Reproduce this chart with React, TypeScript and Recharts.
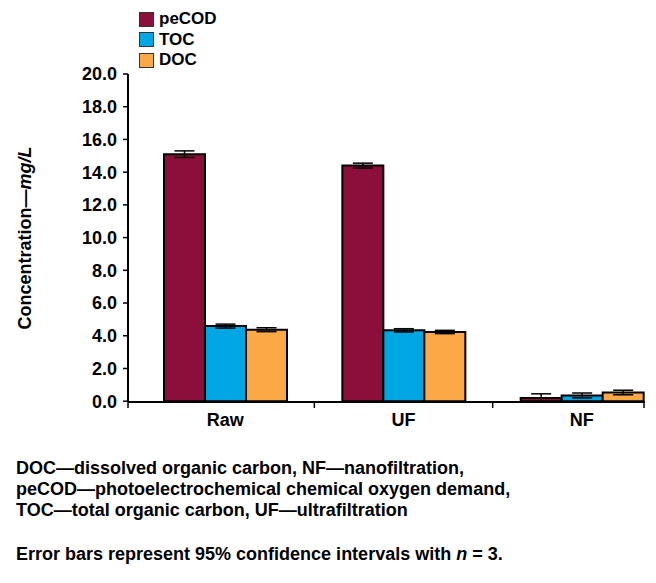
import React from 'react';
import { BarChart, Bar, XAxis, YAxis, ErrorBar } from 'recharts';

const categories = ['Raw', 'UF', 'NF'];
const pecod = [15.1, 14.4, 0.2];
const pecodErr = [0.2, 0.15, 0.25];
const toc = [4.59, 4.33, 0.35];
const tocErr = [0.12, 0.1, 0.15];
const doc = [4.37, 4.23, 0.53];
const docErr = [0.12, 0.1, 0.14];
const yTicks = [0, 2, 4, 6, 8, 10, 12, 14, 16, 18, 20];

const seriesInfo = [
  { key: 'peCOD', color: '#8C0E3A' },
  { key: 'TOC', color: '#00A6E1' },
  { key: 'DOC', color: '#FBA847' },
];

const footnotes = [
  'DOC\u2014dissolved organic carbon, NF\u2014nanofiltration,',
  'peCOD\u2014photoelectrochemical chemical oxygen demand,',
  'TOC\u2014total organic carbon, UF\u2014ultrafiltration',
];

const data = categories.map((c, i) => ({
  name: c,
  peCOD: pecod[i],
  peCODErr: pecodErr[i],
  TOC: toc[i],
  TOCErr: tocErr[i],
  DOC: doc[i],
  DOCErr: docErr[i],
}));

const FONT = '"Liberation Sans", Arial, Helvetica, sans-serif';
const PAD_LEFT = 8;
const PAD_RIGHT = -26;

// ticks sit on the category boundaries, plus one at each end of the axis line
const CategoryTick = (props: any) => {
  const { x, y, payload, index } = props;
  const half = payload && payload.offset ? payload.offset : 89;
  let tx = x - half;
  if (index === 0) tx = x - half - PAD_LEFT;
  const last = index === categories.length - 1;
  return (
    <g>
      <line x1={tx} x2={tx} y1={y} y2={y + 6} stroke="#000" strokeWidth={1.5} />
      {last && (
        <line x1={x + half + PAD_RIGHT - 1} x2={x + half + PAD_RIGHT - 1} y1={y} y2={y + 6} stroke="#000" strokeWidth={1.5} />
      )}
      <text x={x} y={y + 24} textAnchor="middle" fontFamily={FONT} fontWeight="bold" fontSize={18} fill="#000">
        {payload.value}
      </text>
    </g>
  );
};

const LegendBox = () => (
  <div
    style={{
      position: 'absolute',
      top: 9,
      left: 139,
      fontFamily: FONT,
      fontWeight: 'bold',
      fontSize: 17,
      lineHeight: '20.5px',
      color: '#000',
    }}
  >
    {seriesInfo.map((s) => (
      <div key={s.key} style={{ display: 'flex', alignItems: 'center', height: 20.5 }}>
        <span
          style={{
            display: 'inline-block',
            width: 13,
            height: 13,
            background: s.color,
            border: '1.5px solid #333',
            marginRight: 5,
          }}
        />
        <span>{s.key}</span>
      </div>
    ))}
  </div>
);

const YLabel = (props: any) => {
  const { viewBox } = props;
  const cy = viewBox.y + viewBox.height / 2;
  return (
    <text
      x={25}
      y={cy}
      transform={`rotate(-90, 25, ${cy})`}
      textAnchor="middle"
      dominantBaseline="central"
      fontFamily={FONT}
      fontWeight="bold"
      fontSize={18}
      fill="#000"
    >
      Concentration{'\u2014'}
      <tspan fontStyle="italic">mg/L</tspan>
    </text>
  );
};

export default function App() {
  return (
    <div style={{ position: 'absolute', left: 0, top: 0, width: 656, height: 583, background: '#fff' }}>
      <BarChart
        width={656}
        height={440}
        data={data}
        margin={{ top: 74, right: 11, bottom: 8, left: 0 }}
        barGap={0}
        barSize={41}
      >
        <XAxis
          dataKey="name"
          axisLine={{ stroke: '#000', strokeWidth: 2 }}
          tickLine={false}
          tickSize={0}
          tickMargin={0}
          height={30}
          padding={{ left: PAD_LEFT, right: PAD_RIGHT }}
          tick={<CategoryTick />}
          interval={0}
        />
        <YAxis
          width={128}
          domain={[0, 20]}
          ticks={yTicks}
          interval={0}
          tickFormatter={(v: number) => v.toFixed(1)}
          axisLine={{ stroke: '#000', strokeWidth: 2 }}
          tickLine={{ stroke: '#000', strokeWidth: 1.5 }}
          tickSize={5}
          tickMargin={6}
          tick={{ fontFamily: FONT, fontWeight: 'bold', fontSize: 18, fill: '#000' }}
          label={<YLabel />}
        />
        {seriesInfo.map((s) => (
          <Bar key={s.key} dataKey={s.key} fill={s.color} stroke="#000" strokeWidth={2} isAnimationActive={false}>
            <ErrorBar dataKey={`${s.key}Err`} width={10} stroke="#000" strokeWidth={1.5} />
          </Bar>
        ))}
      </BarChart>
      <LegendBox />
      <div style={{ fontFamily: FONT, fontWeight: 'bold', fontSize: 18, lineHeight: '21px', paddingLeft: 16, marginTop: 18, color: '#000' }}>
        {footnotes.map((f) => (
          <div key={f}>{f}</div>
        ))}
        <div style={{ marginTop: 23 }}>
          Error bars represent 95% confidence intervals with <i>n</i> = 3.
        </div>
      </div>
    </div>
  );
}
